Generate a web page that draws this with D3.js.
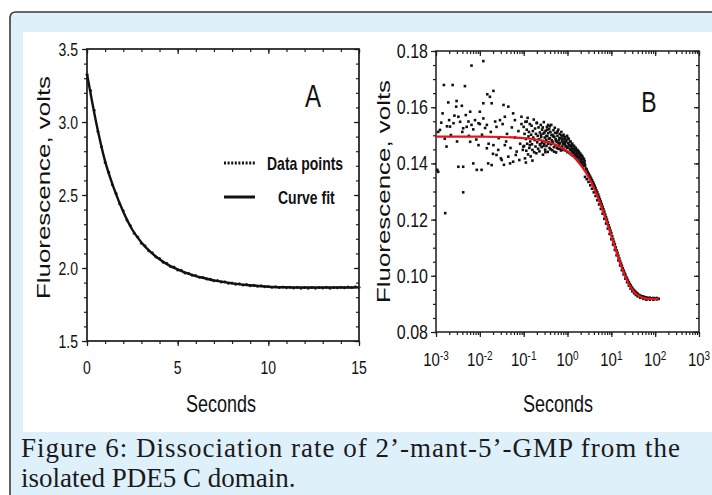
<!DOCTYPE html>
<html>
<head>
<meta charset="utf-8">
<script src="https://cdnjs.cloudflare.com/ajax/libs/d3/7.8.5/d3.min.js"></script>
<style>
  body { margin: 0; background: #fff; }
  svg { display: block; }
  text { font-family: "Liberation Sans", Arial, sans-serif; fill: #111; }
  .caption { font-family: "Liberation Serif", "Times New Roman", serif; fill: #1a1a1a; }
</style>
</head>
<body>
<svg id="chart"></svg>
<script>
const width = 712;
const height = 495;

// Panel A: [seconds, volts]
const dataA = [
  [0.0, 3.325], [0.2, 3.215], [0.4, 3.08], [0.6, 2.935], [0.8, 2.83], [1.0, 2.722], [1.2, 2.655],
  [1.4, 2.57], [1.6, 2.512], [1.8, 2.44], [2.0, 2.392], [2.2, 2.328], [2.4, 2.29], [2.6, 2.238],
  [2.8, 2.212], [3.0, 2.17], [3.2, 2.152], [3.4, 2.118], [3.6, 2.104], [3.8, 2.076], [4.0, 2.065],
  [4.2, 2.04], [4.4, 2.032], [4.6, 2.01], [4.8, 2.006], [5.0, 1.986], [5.2, 1.984], [5.4, 1.966],
  [5.6, 1.964], [5.8, 1.95], [6.0, 1.948], [6.2, 1.936], [6.4, 1.935], [6.6, 1.924], [6.8, 1.923],
  [7.0, 1.912], [7.2, 1.914], [7.4, 1.904], [7.6, 1.905], [7.8, 1.896], [8.0, 1.898], [8.2, 1.889],
  [8.4, 1.892], [8.6, 1.884], [8.8, 1.887], [9.0, 1.879], [9.2, 1.882], [9.4, 1.875], [9.6, 1.878],
  [9.8, 1.871], [10.0, 1.874], [10.2, 1.868], [10.4, 1.872], [10.6, 1.866], [10.8, 1.87], [11.0, 1.865],
  [11.2, 1.869], [11.4, 1.863], [11.6, 1.868], [11.8, 1.862], [12.0, 1.867], [12.2, 1.861], [12.4, 1.866],
  [12.6, 1.862], [12.8, 1.867], [13.0, 1.863], [13.2, 1.868], [13.4, 1.862], [13.6, 1.867], [13.8, 1.864],
  [14.0, 1.869], [14.2, 1.864], [14.4, 1.87], [14.6, 1.866], [14.8, 1.871], [15.0, 1.868]
];

const fitA = [
  [0, 3.33], [0.5, 3.0], [1, 2.73], [1.5, 2.54], [2, 2.385], [2.5, 2.262], [3, 2.175], [3.5, 2.11],
  [4, 2.06], [4.5, 2.02], [5, 1.99], [5.5, 1.965], [6, 1.945], [6.5, 1.93], [7, 1.915], [7.5, 1.905],
  [8, 1.895], [9, 1.882], [10, 1.872], [11, 1.868], [12, 1.866], [13, 1.866], [14, 1.866], [15, 1.867]
];

const ticksAX = [0, 5, 10, 15];
const ticksAY = [1.5, 2.0, 2.5, 3.0, 3.5];
const legendA = ["Data points", "Curve fit"];

// Panel B: [log10 seconds, volts]
const scatterBEarly = [
  [-2.19, 0.1748], [-1.92, 0.1764], [-2.82, 0.1679], [-2.62, 0.1679], [-2.34, 0.1675], [-2.72, 0.1617],
  [-2.53, 0.1622], [-2.54, 0.1602], [-2.41, 0.1605], [-2.85, 0.1578], [-2.70, 0.1554], [-2.49, 0.1566],
  [-2.32, 0.1572], [-2.22, 0.1584], [-2.00, 0.1584], [-1.83, 0.1646], [-1.77, 0.1637], [-1.69, 0.1658],
  [-1.92, 0.1614], [-1.73, 0.1614], [-1.46, 0.1608], [-1.35, 0.1602], [-2.91, 0.1519], [-2.68, 0.1531],
  [-2.60, 0.1543], [-2.38, 0.1525], [-2.26, 0.1549], [-2.19, 0.1537], [-2.11, 0.1554], [-2.03, 0.1543],
  [-1.92, 0.1560], [-1.84, 0.1537], [-1.65, 0.1549], [-1.54, 0.1554], [-1.43, 0.1566], [-1.24, 0.1578],
  [-1.20, 0.1554], [-1.05, 0.1566], [-0.93, 0.1549], [-0.70, 0.1543], [-0.44, 0.1537], [-2.76, 0.1460],
  [-2.49, 0.1388], [-2.38, 0.1388], [-2.15, 0.1400], [-2.07, 0.1377], [-1.96, 0.1377], [-1.81, 0.1400],
  [-1.73, 0.1394], [-1.62, 0.1430], [-1.50, 0.1412], [-1.35, 0.1424], [-1.31, 0.1400], [-1.24, 0.1406],
  [-2.97, 0.1377], [-2.22, 0.1477], [-2.03, 0.1465], [-1.84, 0.1454], [-1.69, 0.1465], [-1.58, 0.1448],
  [-1.43, 0.1465], [-1.16, 0.1442], [-1.01, 0.1460], [-0.86, 0.1465], [-0.63, 0.1465], [-0.48, 0.1477],
  [-2.79, 0.1223], [-2.38, 0.1297], [-2.95, 0.1370], [-2.95, 0.1512], [-2.88, 0.1545], [-2.80, 0.1488],
  [-2.75, 0.1532], [-2.66, 0.1501], [-2.58, 0.1570], [-2.52, 0.1478], [-2.45, 0.1548], [-2.40, 0.1512],
  [-2.30, 0.1530], [-2.25, 0.1498], [-2.15, 0.1521], [-2.08, 0.1485], [-2.00, 0.1540], [-1.95, 0.1502],
  [-1.88, 0.1526], [-1.80, 0.1470], [-1.75, 0.1512], [-1.70, 0.1434], [-1.62, 0.1530], [-1.57, 0.1490],
  [-1.52, 0.1418], [-1.48, 0.1540], [-1.40, 0.1478], [-1.38, 0.1505], [-1.30, 0.1455], [-1.27, 0.1528],
  [-1.20, 0.1492], [-1.18, 0.1430], [-1.12, 0.1515], [-1.08, 0.1470], [-1.05, 0.1540], [-1.02, 0.1448],
  [-1.45, 0.1395], [-1.10, 0.1412], [-0.95, 0.1403], [-0.80, 0.1410]
];

const scatterBBand = [
  [-1.00, .1530], [-0.99, .1462], [-0.98, .1505], [-0.97, .1418], [-0.96, .1548], [-0.95, .1487],
  [-0.94, .1445], [-0.93, .1520], [-0.92, .1470], [-0.91, .1562], [-0.90, .1432], [-0.89, .1496],
  [-0.88, .1512], [-0.87, .1455], [-0.86, .1540], [-0.85, .1478], [-0.84, .1425], [-0.83, .1502],
  [-0.82, .1534], [-0.81, .1468], [-0.80, .1448], [-0.79, .1515], [-0.78, .1492], [-0.77, .1556],
  [-0.76, .1440], [-0.75, .1483], [-0.74, .1524], [-0.73, .1460], [-0.72, .1505], [-0.71, .1436],
  [-0.70, .1545], [-0.69, .1475], [-0.68, .1498], [-0.67, .1452], [-0.66, .1528], [-0.65, .1486],
  [-0.64, .1443], [-0.63, .1510], [-0.62, .1468], [-0.61, .1537], [-0.60, .1494], [-0.59, .1458],
  [-0.58, .1520], [-0.57, .1480], [-0.56, .1431], [-0.55, .1506], [-0.54, .1547], [-0.53, .1470],
  [-0.52, .1492], [-0.51, .1449], [-0.50, .1516], [-0.49, .1484], [-0.48, .1462], [-0.47, .1530],
  [-0.46, .1498], [-0.45, .1441], [-0.44, .1508], [-0.43, .1476], [-0.42, .1522], [-0.41, .1455],
  [-0.40, .1490], [-0.39, .1512], [-0.38, .1468], [-0.37, .1537], [-0.36, .1482], [-0.35, .1447],
  [-0.34, .1500], [-0.33, .1472], [-0.32, .1518], [-0.31, .1458], [-0.30, .1494], [-0.29, .1527],
  [-0.28, .1465], [-0.27, .1486], [-0.26, .1439], [-0.25, .1509], [-0.24, .1476], [-0.23, .1498],
  [-0.22, .1452], [-0.21, .1520], [-0.20, .1482], [-0.19, .1463], [-0.18, .1505], [-0.17, .1471],
  [-0.16, .1490], [-0.15, .1446], [-0.14, .1512], [-0.13, .1478], [-0.12, .1460], [-0.11, .1496],
  [-0.10, .1468], [-0.09, .1502], [-0.08, .1452], [-0.07, .1485], [-0.06, .1470], [-0.05, .1494],
  [-0.04, .1445], [-0.03, .1478], [-0.02, .1460], [-0.01, .1498], [0.00, .1440], [0.01, .1472],
  [0.02, .1455], [0.03, .1486], [0.04, .1437], [0.05, .1463], [0.06, .1448], [0.07, .1478],
  [0.08, .1432], [0.09, .1459], [0.10, .1444], [0.11, .1470], [0.12, .1428], [0.13, .1452],
  [0.14, .1438], [0.15, .1462], [0.16, .1424], [0.17, .1446], [0.18, .1430], [0.19, .1454],
  [0.20, .1418], [0.21, .1440], [0.22, .1426], [0.23, .1447], [0.24, .1410], [0.25, .1432],
  [0.26, .1418], [0.27, .1438], [0.28, .1404], [0.29, .1424], [0.30, .1410], [0.31, .1430],
  [0.32, .1398], [0.33, .1415], [0.34, .1402], [0.35, .1420], [0.36, .1390], [0.37, .1406],
  [0.38, .1393], [0.39, .1408],
  [-0.605, .1502], [-0.585, .1474], [-0.565, .1528], [-0.545, .1462], [-0.525, .1510], [-0.505, .1440],
  [-0.485, .1497], [-0.465, .1520], [-0.445, .1470], [-0.425, .1488], [-0.405, .1532], [-0.385, .1450],
  [-0.365, .1502], [-0.345, .1478], [-0.325, .1496], [-0.305, .1442], [-0.285, .1508], [-0.265, .1480],
  [-0.245, .1456], [-0.225, .1514], [-0.205, .1472], [-0.185, .1490], [-0.165, .1452], [-0.145, .1500],
  [-0.125, .1486], [-0.105, .1448], [-0.085, .1476], [-0.065, .1492], [-0.045, .1462], [-0.025, .1484],
  [-0.005, .1456], [0.015, .1490], [0.035, .1466], [0.055, .1476], [0.075, .1450], [0.095, .1466],
  [0.115, .1440], [0.135, .1462], [0.155, .1442], [0.175, .1456], [0.195, .1434], [0.215, .1448],
  [0.235, .1424], [0.255, .1442], [0.275, .1420], [0.295, .1434], [0.315, .1414], [0.335, .1426],
  [0.355, .1404], [0.375, .1416], [0.395, .1398]
];

const scatterBTail = [
  [0.40, .1392], [0.40, .1352], [0.42, .1382], [0.44, .1344], [0.44, .1378], [0.46, .1370],
  [0.48, .1334], [0.48, .1364], [0.50, .1358], [0.52, .1322], [0.52, .1352], [0.54, .1346],
  [0.56, .1310], [0.56, .1340], [0.58, .1333], [0.60, .1297], [0.60, .1327], [0.62, .1320],
  [0.64, .1284], [0.64, .1312], [0.66, .1304], [0.68, .1269], [0.68, .1297], [0.70, .1289],
  [0.72, .1254], [0.72, .1281], [0.74, .1272], [0.76, .1238], [0.76, .1264], [0.78, .1255],
  [0.80, .1221], [0.80, .1246], [0.82, .1237], [0.84, .1203], [0.84, .1228], [0.86, .1218],
  [0.88, .1186], [0.88, .1209], [0.90, .1200], [0.92, .1168], [0.92, .1190], [0.94, .1180],
  [0.96, .1149], [0.96, .1171], [0.98, .1161], [1.00, .1130], [1.00, .1152], [1.02, .1141],
  [1.04, .1111], [1.04, .1131], [1.06, .1121], [1.08, .1092], [1.08, .1112], [1.10, .1101],
  [1.12, .1073], [1.12, .1091], [1.14, .1082], [1.16, .1055], [1.16, .1072], [1.18, .1062],
  [1.20, .1037], [1.20, .1053], [1.22, .1044], [1.24, .1020], [1.24, .1036], [1.26, .1027],
  [1.28, .1005], [1.28, .1019], [1.30, .1011], [1.32, .0990], [1.32, .1004], [1.34, .0996],
  [1.36, .0977], [1.36, .0990], [1.38, .0983], [1.40, .0965], [1.40, .0977], [1.42, .0971],
  [1.44, .0954], [1.44, .0966], [1.46, .0960], [1.48, .0945], [1.48, .0956], [1.50, .0951],
  [1.52, .0938], [1.52, .0948], [1.54, .0944], [1.56, .0932], [1.56, .0942], [1.58, .0938],
  [1.60, .0927], [1.60, .0936], [1.63, .0932], [1.66, .0922], [1.66, .0930], [1.70, .0927],
  [1.73, .0918], [1.73, .0926], [1.76, .0924], [1.80, .0915], [1.80, .0923], [1.84, .0921],
  [1.88, .0915], [1.88, .0922], [1.92, .0920], [1.96, .0915], [1.96, .0921], [2.00, .0920],
  [2.04, .0916], [2.04, .0921], [2.08, .0918]
];

const fitB = [
  [-3, .1495], [-2, .1495], [-1.5, .1494], [-1, .1490], [-0.75, .1486], [-0.5, .1478], [-0.25, .1465],
  [0, .1443], [0.2, .1414], [0.4, .1372], [0.5, .1345], [0.6, .1313], [0.7, .1276], [0.8, .1234],
  [0.9, .1189], [1.0, .1141], [1.1, .1092], [1.2, .1045], [1.3, .1004], [1.4, .0971], [1.5, .0946],
  [1.6, .0931], [1.7, .0923], [1.8, .0919], [1.9, .0918], [2.08, .0918]
];

const ticksBY = [0.08, 0.10, 0.12, 0.14, 0.16, 0.18];
const decadesB = [-3, -2, -1, 0, 1, 2, 3];

const captionLines = [
  "Figure 6: Dissociation rate of 2\u2019-mant-5\u2019-GMP from the",
  "isolated PDE5 C domain."
];

const ink = "#1c1c1c";

const svg = d3.select("#chart").attr("width", width).attr("height", height);

// page frame
svg.append("rect").attr("width", width).attr("height", height).attr("fill", "#fff");
svg.append("path")
  .attr("d", `M10,${height} L10,18 Q10,12 16,12 L${width},12 L${width},${height} Z`)
  .attr("fill", "#def0fa");
svg.append("path")
  .attr("d", `M10,${height} L10,18 Q10,12 16,12 L${width},12`)
  .attr("fill", "none")
  .attr("stroke", "#3a3a3a")
  .attr("stroke-width", 1.6);
svg.append("rect").attr("x", 23).attr("y", 32).attr("width", width - 23).attr("height", 400).attr("fill", "#fff");

function label(g, x, y, txt, size, sy, anchor, weight) {
  return g.append("text")
    .attr("transform", `translate(${x},${y}) scale(1,${sy})`)
    .attr("text-anchor", anchor || "middle")
    .style("font-size", size + "px")
    .style("font-weight", weight || "normal")
    .text(txt);
}

function styleAxis(g) {
  g.select(".domain").remove();
  g.selectAll("line").attr("stroke", ink).attr("stroke-width", 1.2);
}

function addAxis(g, axis, tx, ty) {
  g.append("g").attr("transform", `translate(${tx},${ty})`).call(axis).call(styleAxis);
}

// ---------- Panel A ----------
const xA = d3.scaleLinear().domain([0, 15]).range([87, 359]);
const yA = d3.scaleLinear().domain([1.5, 3.5]).range([341, 49]);
const gA = svg.append("g");

const minorAX = d3.range(0, 16, 1);
const minorAY = d3.range(15, 36, 1).map((d) => d / 10);

addAxis(gA, d3.axisBottom(xA).tickValues(minorAX).tickSize(3).tickFormat(""), 0, yA(1.5));
addAxis(gA, d3.axisBottom(xA).tickValues(ticksAX).tickSize(5).tickFormat(""), 0, yA(1.5));
addAxis(gA, d3.axisTop(xA).tickValues(minorAX).tickSize(-3).tickFormat(""), 0, yA(3.5));
addAxis(gA, d3.axisTop(xA).tickValues(ticksAX).tickSize(-5).tickFormat(""), 0, yA(3.5));
addAxis(gA, d3.axisLeft(yA).tickValues(minorAY).tickSize(3).tickFormat(""), xA(0), 0);
addAxis(gA, d3.axisLeft(yA).tickValues(ticksAY).tickSize(5).tickFormat(""), xA(0), 0);
addAxis(gA, d3.axisRight(yA).tickValues(minorAY).tickSize(-3).tickFormat(""), xA(15), 0);
addAxis(gA, d3.axisRight(yA).tickValues(ticksAY).tickSize(-5).tickFormat(""), xA(15), 0);

gA.append("rect")
  .attr("x", xA(0)).attr("y", yA(3.5))
  .attr("width", xA(15) - xA(0)).attr("height", yA(1.5) - yA(3.5))
  .attr("fill", "none").attr("stroke", ink).attr("stroke-width", 1.7);

ticksAY.forEach((d) => label(gA, 78, yA(d) + 6.5, d.toFixed(1), 14, 1.35, "end"));
ticksAX.forEach((d) => label(gA, xA(d), 373.5, String(d), 14, 1.35, "middle"));

gA.selectAll("circle.pt")
  .data(dataA)
  .enter()
  .append("circle")
  .attr("class", "pt")
  .attr("cx", (d) => xA(d[0]))
  .attr("cy", (d) => yA(d[1]))
  .attr("r", 1.5)
  .attr("fill", "#333");

gA.append("path")
  .datum(fitA)
  .attr("d", d3.line().x((d) => xA(d[0])).y((d) => yA(d[1])).curve(d3.curveMonotoneX))
  .attr("fill", "none")
  .attr("stroke", "#111")
  .attr("stroke-width", 2.4);

// legend
gA.append("line").attr("x1", 224).attr("x2", 255).attr("y1", 163).attr("y2", 163)
  .attr("stroke", "#111").attr("stroke-width", 3).attr("stroke-dasharray", "2,1.6");
gA.append("line").attr("x1", 224).attr("x2", 255).attr("y1", 197).attr("y2", 197)
  .attr("stroke", "#111").attr("stroke-width", 3);
label(gA, 267, 169.5, legendA[0], 14, 1.3, "start", "bold");
label(gA, 278, 203.5, legendA[1], 14, 1.3, "start", "bold");

label(gA, 313, 107, "A", 24, 1.3, "middle");
label(gA, 221, 412, "Seconds", 18, 1.3, "middle");
gA.append("text")
  .attr("transform", "translate(50,187.5) rotate(-90) scale(1.4,1)")
  .attr("text-anchor", "middle")
  .style("font-size", "18.5px")
  .text("Fluorescence, volts");

// ---------- Panel B ----------
const xB = d3.scaleLog().domain([1e-3, 1e3]).range([436, 699]);
const yB = d3.scaleLinear().domain([0.08, 0.18]).range([332, 51]);
const gB = svg.append("g");

const majorBX = decadesB.map((d) => Math.pow(10, d));
const minorBX = xB.ticks();
const minorBY = d3.range(16, 37, 1).map((d) => d / 200);

addAxis(gB, d3.axisBottom(xB).tickValues(minorBX).tickSize(3).tickFormat(""), 0, yB(0.08));
addAxis(gB, d3.axisBottom(xB).tickValues(majorBX).tickSize(5).tickFormat(""), 0, yB(0.08));
addAxis(gB, d3.axisTop(xB).tickValues(minorBX).tickSize(-3).tickFormat(""), 0, yB(0.18));
addAxis(gB, d3.axisTop(xB).tickValues(majorBX).tickSize(-5).tickFormat(""), 0, yB(0.18));
addAxis(gB, d3.axisLeft(yB).tickValues(minorBY).tickSize(3).tickFormat(""), xB(1e-3), 0);
addAxis(gB, d3.axisLeft(yB).tickValues(ticksBY).tickSize(5).tickFormat(""), xB(1e-3), 0);
addAxis(gB, d3.axisRight(yB).tickValues(minorBY).tickSize(-3).tickFormat(""), xB(1e3), 0);
addAxis(gB, d3.axisRight(yB).tickValues(ticksBY).tickSize(-5).tickFormat(""), xB(1e3), 0);

gB.append("rect")
  .attr("x", xB(1e-3)).attr("y", yB(0.18))
  .attr("width", xB(1e3) - xB(1e-3)).attr("height", yB(0.08) - yB(0.18))
  .attr("fill", "none").attr("stroke", ink).attr("stroke-width", 1.5);

ticksBY.forEach((d) => label(gB, 428, yB(d) + 7, d.toFixed(2), 16, 1.25, "end"));
decadesB.forEach((d) => {
  const t = gB.append("text")
    .attr("transform", `translate(${xB(Math.pow(10, d))},366) scale(1,1.2)`)
    .attr("text-anchor", "middle")
    .style("font-size", "15px");
  t.append("tspan").text("10");
  t.append("tspan").attr("dy", -5).style("font-size", "10px").text(String(d));
});

const scatterB = scatterBEarly.concat(scatterBBand, scatterBTail);
gB.selectAll("rect.pt")
  .data(scatterB)
  .enter()
  .append("rect")
  .attr("class", "pt")
  .attr("x", (d) => xB(Math.pow(10, d[0])) - 1.3)
  .attr("y", (d) => yB(d[1]) - 1.3)
  .attr("width", 2.6)
  .attr("height", 2.6)
  .attr("fill", "#111");

gB.append("path")
  .datum(fitB)
  .attr("d", d3.line().x((d) => xB(Math.pow(10, d[0]))).y((d) => yB(d[1])).curve(d3.curveMonotoneX))
  .attr("fill", "none")
  .attr("stroke", "#e8141c")
  .attr("stroke-width", 2.2);

label(gB, 649, 112, "B", 23, 1.3, "middle");
label(gB, 558, 412, "Seconds", 18, 1.3, "middle");
gB.append("text")
  .attr("transform", "translate(390,191.5) rotate(-90) scale(1.4,1)")
  .attr("text-anchor", "middle")
  .style("font-size", "18.5px")
  .text("Fluorescence, volts");

// ---------- caption ----------
svg.append("text")
  .attr("class", "caption")
  .attr("x", 21).attr("y", 457)
  .attr("textLength", 659).attr("lengthAdjust", "spacing")
  .style("font-size", "27px")
  .text(captionLines[0]);
svg.append("text")
  .attr("class", "caption")
  .attr("x", 21).attr("y", 487)
  .style("font-size", "27px")
  .text(captionLines[1]);
</script>
</body>
</html>
